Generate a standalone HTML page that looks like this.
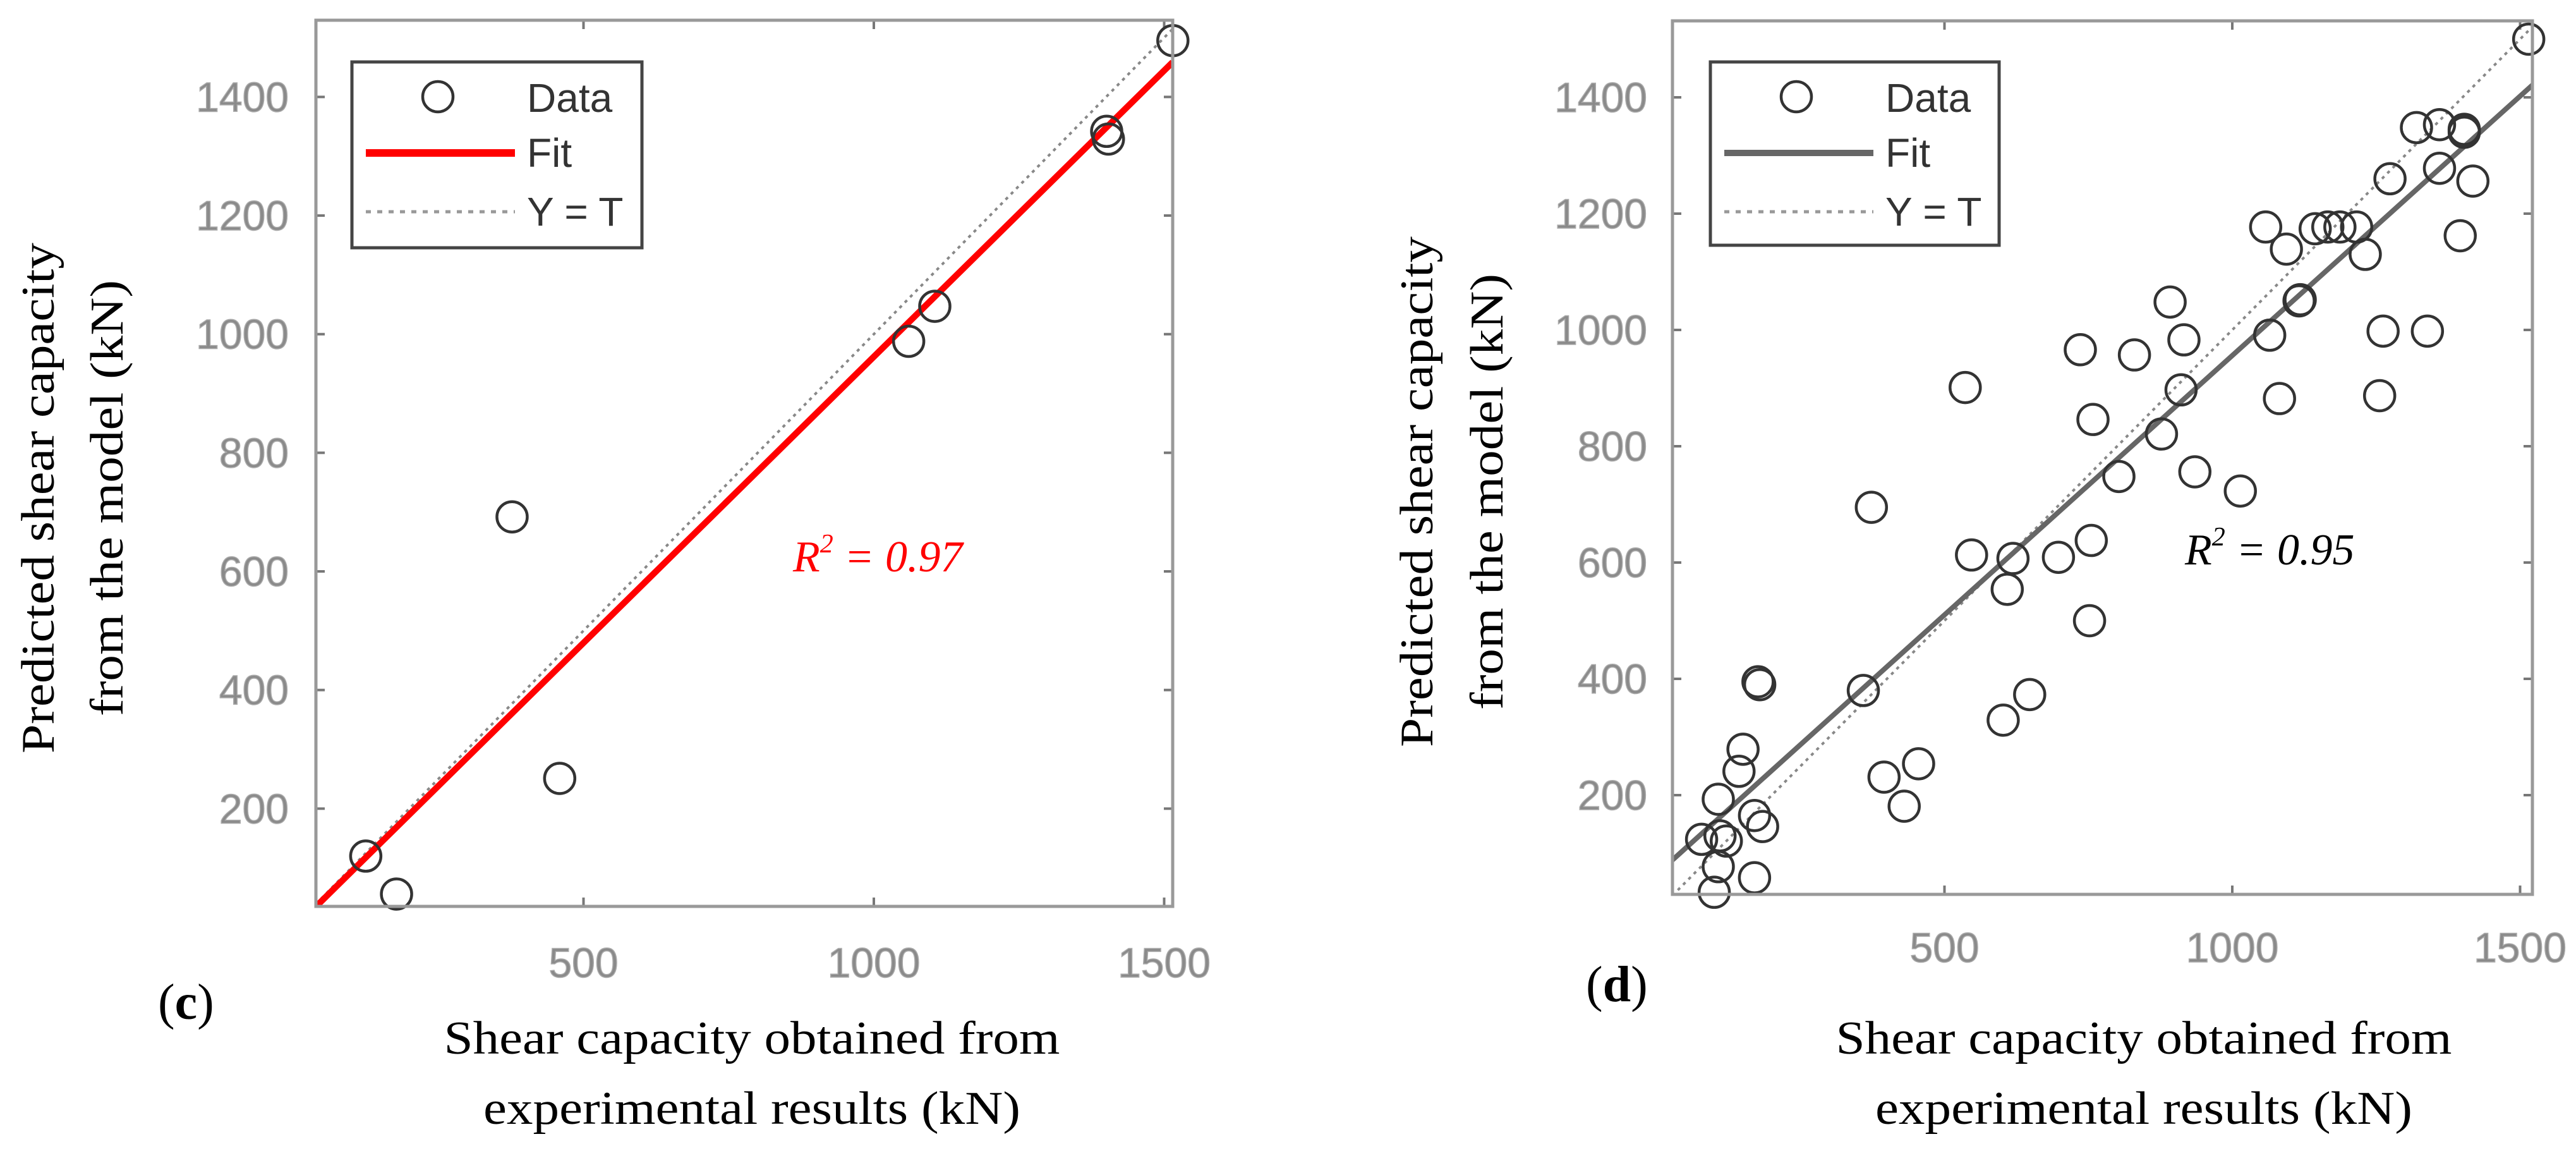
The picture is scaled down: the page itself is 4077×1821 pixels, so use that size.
<!DOCTYPE html>
<html><head><meta charset="utf-8"><style>
html,body{margin:0;padding:0;background:#fff;}
svg{display:block;}
</style></head><body>
<svg id="chart" width="4077" height="1821" viewBox="0 0 4077 1821" xmlns="http://www.w3.org/2000/svg">
<rect x="0" y="0" width="4077" height="1821" fill="#fff"/>
<g id="panelC"></g>
<g id="panelD"></g>
</svg>
<script>
// ---- data ----
const xTickValues = [500, 1000, 1500];
const yTickValues = [200, 400, 600, 800, 1000, 1200, 1400];
const cExp = [125, 178, 377, 459, 1060, 1105, 1401, 1404, 1515];
const cPred = [120, 56, 692, 251, 988, 1047, 1342, 1329, 1495];
const cFit = [0.965, -3];   // slope, intercept
const cR2 = "0.97";
const dExp = [1515,1320,1360,1403,1403,1403,1360,1274,1418,1396,1058,1094,1144,1166,1187,1216,1231,1116,1118,1065,1262,1339,1082,1256,892,916,911,736,830,536,758,877,935,803,1014,373,547,619,698,755,609,752,359,176,179,602,648,395,455,430,150,143,107,78,121,110,170,184,107,100,170];
const dPred = [1500,1348,1353,1345,1340,1343,1278,1260,1256,1162,1177,1139,1174,1177,1177,1177,1130,1050,1052,991,998,998,882,887,1048,983,897,966,957,901,846,821,756,748,723,695,613,607,609,638,554,500,380,395,390,329,373,231,254,181,279,241,193,124,121,130,165,146,77,33,58];
const dFit = [0.892, 64];
const dR2 = "0.95";

const NS = "http://www.w3.org/2000/svg";
function mk(parent, tag, attrs, text){
  const e = document.createElementNS(NS, tag);
  for (const k in attrs) e.setAttribute(k, attrs[k]);
  if (text !== undefined) e.textContent = text;
  parent.appendChild(e);
  return e;
}

function drawPanel(g, cfg, exp, pred, fit, r2){
  const L=cfg.left, R=cfg.right, T=cfg.top, B=cfg.bottom;
  const sx = v => cfg.x0 + v*cfg.kx;
  const sy = v => cfg.y0 - v*cfg.ky;
  const xmin=(L-cfg.x0)/cfg.kx, xmax=(R-cfg.x0)/cfg.kx;
  const clipId = 'clip'+cfg.id;
  const defs = mk(g,'defs',{});
  const cp = mk(defs,'clipPath',{id:clipId});
  mk(cp,'rect',{x:L,y:T,width:R-L,height:B-T});

  for (const v of xTickValues){
    const t1 = mk(g,'line',{x1:sx(v),x2:sx(v),y1:B,y2:B-14,stroke:'#777','stroke-width':4});
    
    
    const t2 = mk(g,'line',{x1:sx(v),x2:sx(v),y1:T,y2:T+14,stroke:'#777','stroke-width':4});
    
    
    const lb = mk(g,'text',{x:sx(v),y:cfg.xLabelY,'text-anchor':'middle','font-family':'Liberation Sans, sans-serif','font-size':66,fill:'#8a8a8a',stroke:'#aaa','stroke-width':1.5}, String(v));
    
    
  }
  for (const v of yTickValues){
    const t1 = mk(g,'line',{x1:L,x2:L+14,y1:sy(v),y2:sy(v),stroke:'#777','stroke-width':4});
    
    
    const t2 = mk(g,'line',{x1:R,x2:R-14,y1:sy(v),y2:sy(v),stroke:'#777','stroke-width':4});
    
    
    const lb = mk(g,'text',{x:cfg.yLabelX,y:sy(v)+23,'text-anchor':'end','font-family':'Liberation Sans, sans-serif','font-size':66,fill:'#8a8a8a',stroke:'#aaa','stroke-width':1.5}, String(v));
    
    
  }

  const plot = mk(g,'g',{'clip-path':'url(#'+clipId+')'});
  const yt = mk(plot,'line',{x1:sx(xmin),y1:sy(xmin),x2:sx(xmax),y2:sy(xmax),stroke:'#888','stroke-width':4,'stroke-dasharray':'5 7'});
  
  
  const fl = mk(plot,'line',{x1:sx(xmin),y1:sy(fit[0]*xmin+fit[1]),x2:sx(xmax),y2:sy(fit[0]*xmax+fit[1]),stroke:cfg.fitColor,'stroke-width':cfg.fitWidth});
  
  
  for (let i=0;i<exp.length;i++){
    const c = mk(g,'circle',{cx:sx(exp[i]),cy:sy(pred[i]),r:24,fill:'none',stroke:'#333','stroke-width':4.5});
    
    
  }
  const box = mk(g,'rect',{x:L,y:T,width:R-L,height:B-T,fill:'none',stroke:'#999','stroke-width':5});
  
  

  const lg = mk(g,'g',{});
  
  
  mk(lg,'rect',{x:cfg.legX,y:98,width:cfg.legW,height:cfg.legH,fill:'#fff',stroke:'#444','stroke-width':5});
  const lx = cfg.legX;
  const e1 = mk(lg,'circle',{cx:lx+136,cy:153,r:24,fill:'none',stroke:'#333','stroke-width':4.5});
  
  
  mk(lg,'line',{x1:lx+22,x2:lx+258,y1:242,y2:242,stroke:cfg.fitColor,'stroke-width':cfg.fitWidth+2});
  mk(lg,'line',{x1:lx+22,x2:lx+258,y1:335,y2:335,stroke:'#999','stroke-width':5,'stroke-dasharray':'8 10'});
  const t1 = mk(lg,'text',{x:lx+277,y:177,'font-family':'Liberation Sans, sans-serif','font-size':64,fill:'#333'},'Data');
  
  
  const t2 = mk(lg,'text',{x:lx+277,y:264,'font-family':'Liberation Sans, sans-serif','font-size':64,fill:'#333'},'Fit');
  
  
  const t3 = mk(lg,'text',{x:lx+277,y:357,'font-family':'Liberation Sans, sans-serif','font-size':64,fill:'#333'},'Y = T');
  
  

  const r = mk(g,'text',{x:cfg.r2X,y:cfg.r2Y,'font-family':'Liberation Serif, serif','font-style':'italic','font-size':70,fill:cfg.r2Color});
  
  
  mk(r,'tspan',{},'R');
  mk(r,'tspan',{dy:-30,'font-size':42},'2');
  mk(r,'tspan',{dy:30},' = '+r2);

  const pl = mk(g,'text',{x:cfg.letterX,y:cfg.letterY,'font-family':'Liberation Serif, serif','font-size':80,fill:'#000'});
  
  
  mk(pl,'tspan',{},'(');
  mk(pl,'tspan',{'font-weight':'bold'},cfg.letter);
  mk(pl,'tspan',{},')');

  const xt1 = mk(g,'text',{x:cfg.xtX,y:1667,'text-anchor':'middle','font-family':'Liberation Serif, serif','font-size':74,fill:'#000',textLength:975,lengthAdjust:'spacingAndGlyphs'},'Shear capacity obtained from');
  
  
  const xt2 = mk(g,'text',{x:cfg.xtX,y:1778,'text-anchor':'middle','font-family':'Liberation Serif, serif','font-size':74,fill:'#000',textLength:850,lengthAdjust:'spacingAndGlyphs'},'experimental results (kN)');
  
  
  const yt1 = mk(g,'text',{x:0,y:0,'text-anchor':'middle','font-family':'Liberation Serif, serif','font-size':74,fill:'#000',textLength:808,lengthAdjust:'spacingAndGlyphs',transform:'translate('+(cfg.ytX1+24)+','+cfg.ytY+') rotate(-90)'},'Predicted shear capacity');
  
  
  const yt2 = mk(g,'text',{x:0,y:0,'text-anchor':'middle','font-family':'Liberation Serif, serif','font-size':74,fill:'#000',textLength:690,lengthAdjust:'spacingAndGlyphs',transform:'translate('+(cfg.ytX2+24)+','+cfg.ytY+') rotate(-90)'},'from the model (kN)');
  
  
}

drawPanel(document.getElementById('panelC'), {
  id:'C', left:500, right:1856, top:32, bottom:1434,
  x0:464, kx:0.919, y0:1467, ky:0.9383,
  xLabelY:1546, yLabelX:457, fitColor:'#ff0000', fitWidth:10,
  legX:557, legW:459, legH:294,
  r2X:1255, r2Y:904, r2Color:'#ff0000',
  letter:'c', letterX:250, letterY:1612,
  xtX:1190, ytX1:61, ytX2:170, ytY:788
}, cExp, cPred, cFit, cR2);

drawPanel(document.getElementById('panelD'), {
  id:'D', left:2647, right:4008, top:33, bottom:1415,
  x0:2622, kx:0.911, y0:1442, ky:0.92,
  xLabelY:1522, yLabelX:2607, fitColor:'#666', fitWidth:8,
  legX:2707, legW:457, legH:290,
  r2X:3458, r2Y:893, r2Color:'#000',
  letter:'d', letterX:2510, letterY:1584,
  xtX:3393, ytX1:2243, ytX2:2354, ytY:778
}, dExp, dPred, dFit, dR2);
</script>
</body></html>
